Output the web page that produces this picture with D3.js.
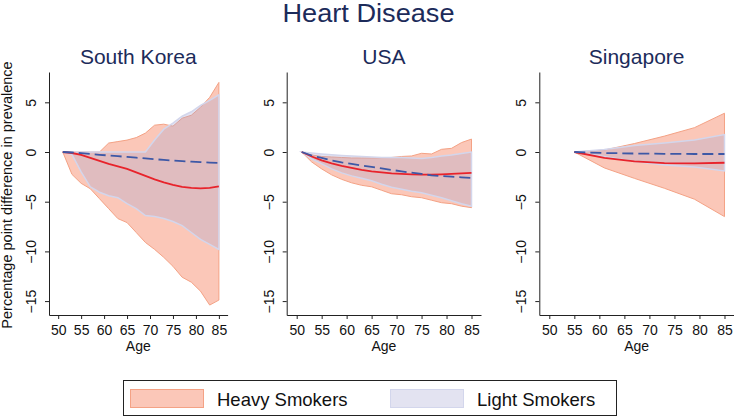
<!DOCTYPE html>
<html lang="en">
<head>
<meta charset="UTF-8">
<title>Heart Disease</title>
<script src="https://cdnjs.cloudflare.com/ajax/libs/d3/7.8.5/d3.min.js"></script>
<style>
    body { margin: 0; background: #fff; }
    text { font-family: "Liberation Sans", Arial, sans-serif; }
</style>
</head>
<body>
<svg width="734" height="417"></svg>
<script>
// ages (2-year steps for SK/USA, 6-year steps for Singapore)
const ages   = [51, 53, 55, 57, 59, 61, 63, 65, 67, 69, 71, 73, 75, 77, 79, 81, 83, 85];
const sgAges = [55, 61, 67, 73, 79, 85];
const xTicks = [50, 55, 60, 65, 70, 75, 80, 85];
const yTicks = [5, 0, -5, -10, -15];

// South Korea
const skHeavyMean = [0, -0.1, -0.3, -0.6, -0.9, -1.2, -1.45, -1.7, -2.05, -2.4, -2.75, -3.05, -3.3, -3.5, -3.6, -3.65, -3.6, -3.45];
const skHeavyHi   = [0, 0, 0, 0, 0, 0.9, 1.05, 1.2, 1.45, 1.9, 2.7, 2.8, 2.6, 3.4, 3.7, 4.5, 5.5, 7.0];
const skHeavyLo   = [0, -2.25, -3.15, -3.7, -4.7, -5.7, -6.7, -7.1, -8.1, -9.1, -9.8, -10.6, -11.5, -12.6, -13.1, -14.0, -15.4, -14.9];
const skLightMean = [0, -0.05, -0.12, -0.2, -0.28, -0.35, -0.42, -0.5, -0.57, -0.65, -0.72, -0.8, -0.86, -0.92, -0.97, -1.02, -1.07, -1.1];
const skLightHi   = [0, 0, 0, 0, 0, 0, 0, 0, 0, 0, 1.2, 2.3, 2.9, 3.6, 4.05, 4.7, 5.2, 5.75];
const skLightLo   = [0, -0.25, -2.0, -3.5, -4.05, -4.4, -4.6, -5.2, -5.7, -6.4, -6.5, -6.7, -7.0, -7.4, -8.1, -8.8, -9.3, -9.8];

// USA
const usHeavyMean = [0, -0.45, -0.85, -1.15, -1.4, -1.6, -1.8, -1.95, -2.05, -2.15, -2.2, -2.25, -2.28, -2.28, -2.25, -2.2, -2.15, -2.1];
const usHeavyHi   = [0, -0.3, -0.45, -0.5, -0.55, -0.6, -0.6, -0.6, -0.58, -0.55, -0.45, -0.4, -0.13, -0.2, 0.27, 0.37, 0.95, 1.3];
const usHeavyLo   = [0, -1.0, -1.7, -2.3, -2.75, -3.1, -3.35, -3.5, -3.85, -4.2, -4.3, -4.5, -4.6, -4.85, -5.1, -5.2, -5.45, -5.6];
const usLightMean = [0, -0.35, -0.6, -0.85, -1.05, -1.2, -1.35, -1.5, -1.65, -1.8, -1.95, -2.08, -2.2, -2.35, -2.42, -2.48, -2.55, -2.6];
const usLightHi   = [0, -0.1, -0.2, -0.28, -0.35, -0.4, -0.45, -0.5, -0.55, -0.55, -0.55, -0.6, -0.65, -0.55, -0.4, -0.3, -0.15, 0];
const usLightLo   = [0, -0.7, -1.2, -1.7, -2.1, -2.4, -2.65, -2.9, -3.25, -3.55, -3.75, -3.95, -4.1, -4.35, -4.6, -4.9, -5.2, -5.45];

// Singapore
const sgHeavyMean = [0, -0.6, -0.95, -1.12, -1.14, -1.08];
const sgHeavyHi   = [0, 0.2, 0.85, 1.6, 2.45, 3.9];
const sgHeavyLo   = [0, -1.6, -2.65, -3.65, -4.75, -6.5];
const sgLightMean = [0, -0.1, -0.15, -0.18, -0.2, -0.2];
const sgLightHi   = [0, 0.25, 0.65, 0.9, 1.2, 1.75];
const sgLightLo   = [0, -0.45, -0.95, -1.3, -1.5, -1.9];

const panels = [
    {name: "South Korea", ages: ages,   heavy: [skHeavyMean, skHeavyLo, skHeavyHi], light: [skLightMean, skLightLo, skLightHi], range: [49, 227.6]},
    {name: "USA",         ages: ages,   heavy: [usHeavyMean, usHeavyLo, usHeavyHi], light: [usLightMean, usLightLo, usLightHi], range: [286.7, 481]},
    {name: "Singapore",   ages: sgAges, heavy: [sgHeavyMean, sgHeavyLo, sgHeavyHi], light: [sgLightMean, sgLightLo, sgLightHi], range: [539.3, 734]}
];

const navy = "#1c2b5a";
const heavyFill = "#fbc7b8", heavyLine = "#f4a285";
const lightFill = "#a2a2d0", lightLine = "#d3d6ec";

const svg = d3.select("svg");

svg.append("text")
    .attr("x", 368.5).attr("y", 22)
    .attr("text-anchor", "middle")
    .attr("textLength", 172).attr("lengthAdjust", "spacingAndGlyphs")
    .style("font-size", "25px").style("fill", navy)
    .text("Heart Disease");

const y = d3.scaleLinear().domain([-16.4, 8.05]).range([315, 72]);

panels.forEach(function(p) {
    var x = d3.scaleLinear().domain([48, 86.9]).range(p.range);
    var g = svg.append("g");
    var pts = p.ages.map((a, i) => i);

    var band = d3.area()
        .x(i => x(p.ages[i]));
    var line = d3.line()
        .x(i => x(p.ages[i]));

    // heavy band
    g.append("path")
        .datum(pts)
        .attr("d", band.y0(i => y(p.heavy[1][i])).y1(i => y(p.heavy[2][i])))
        .attr("fill", heavyFill)
        .attr("stroke", heavyLine)
        .attr("stroke-width", 1);

    // light band (translucent)
    g.append("path")
        .datum(pts)
        .attr("d", band.y0(i => y(p.light[1][i])).y1(i => y(p.light[2][i])))
        .attr("fill", lightFill)
        .attr("fill-opacity", 0.3)
        .attr("stroke", lightLine)
        .attr("stroke-width", 1.5);

    g.append("path")
        .datum(pts)
        .attr("d", line.y(i => y(p.heavy[0][i])))
        .attr("fill", "none")
        .attr("stroke", "#e8232b")
        .attr("stroke-width", 1.8);

    g.append("path")
        .datum(pts)
        .attr("d", line.y(i => y(p.light[0][i])))
        .attr("fill", "none")
        .attr("stroke", "#3d58a6")
        .attr("stroke-width", 1.8)
        .attr("stroke-dasharray", "11,5");

    // axes
    var ax = g.append("g")
        .attr("transform", "translate(" + p.range[0] + ",0)")
        .call(d3.axisLeft(y).tickValues(yTicks).tickSize(4).tickSizeOuter(0));
    ax.selectAll(".tick text")
        .attr("x", null).attr("dy", null)
        .attr("text-anchor", "middle")
        .attr("transform", "translate(-13,0) rotate(-90)")
        .style("font-size", "14px").style("fill", "#111");

    var bx = g.append("g")
        .attr("transform", "translate(0,315)")
        .call(d3.axisBottom(x).tickValues(xTicks).tickSize(4).tickSizeOuter(0).tickPadding(6));
    bx.selectAll(".tick text")
        .style("font-size", "14px").style("fill", "#111");

    g.selectAll(".domain, .tick line").attr("stroke", "#222");

    g.append("text")
        .attr("x", (p.range[0] + p.range[1]) / 2).attr("y", 64)
        .attr("text-anchor", "middle")
        .style("font-size", "21px").style("fill", navy)
        .text(p.name);

    g.append("text")
        .attr("x", (p.range[0] + p.range[1]) / 2).attr("y", 351)
        .attr("text-anchor", "middle")
        .style("font-size", "14px").style("fill", "#111")
        .text("Age");
});

svg.append("text")
    .attr("transform", "translate(12,195) rotate(-90)")
    .attr("text-anchor", "middle")
    .style("font-size", "14.5px").style("fill", "#111")
    .text("Percentage point difference in prevalence");

// legend
var leg = svg.append("g");
leg.append("rect")
    .attr("x", 123.5).attr("y", 380.5).attr("width", 493).attr("height", 35)
    .attr("fill", "#fff").attr("stroke", "#222").attr("stroke-width", 1);
leg.append("rect")
    .attr("x", 130.5).attr("y", 389.5).attr("width", 73).attr("height", 18)
    .attr("fill", heavyFill).attr("stroke", heavyLine);
leg.append("text")
    .attr("x", 217).attr("y", 406)
    .style("font-size", "18.5px").style("fill", "#111")
    .text("Heavy Smokers");
leg.append("rect")
    .attr("x", 390.5).attr("y", 389.5).attr("width", 73).attr("height", 18)
    .attr("fill", "#e3e3f1").attr("stroke", lightLine);
leg.append("text")
    .attr("x", 477).attr("y", 406)
    .style("font-size", "18.5px").style("fill", "#111")
    .text("Light Smokers");
</script>
</body>
</html>
